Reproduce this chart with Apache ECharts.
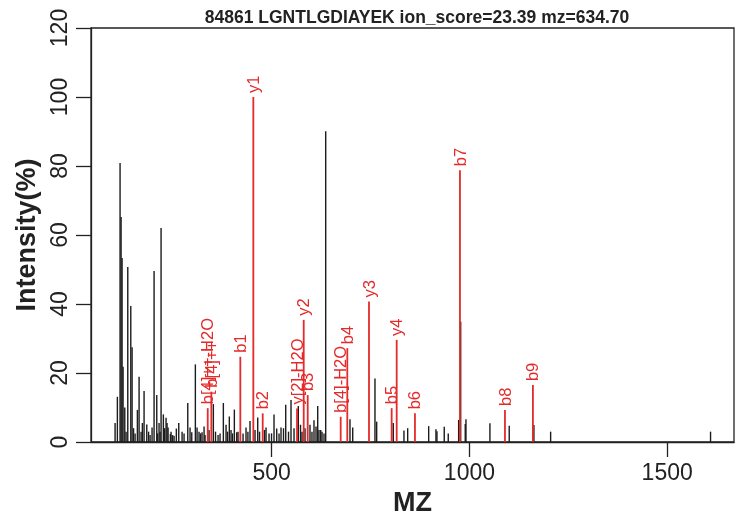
<!DOCTYPE html>
<html>
<head>
<meta charset="utf-8">
<script src="https://cdn.jsdelivr.net/npm/echarts@6/dist/echarts.min.js"></script>
<style>
  html, body { margin: 0; padding: 0; background: #fff; }
  #chart { width: 745px; height: 527px; }
</style>
</head>
<body>
<div id="chart"></div>
<script>
// 未匹配的峰（黑色）
const blackMz = [103.9, 109.7, 116.5, 119.1, 121.6, 124.1, 128.4, 131.7, 136, 143.6, 146.9, 150.6, 154.5,
  160.3, 164.6, 169.6, 172.9, 177.2, 184, 188.6, 192.4, 197.4, 202.5, 209.3, 211.3, 215.1, 217.6, 220.2,
  226, 229, 232.8, 235.3, 237.9, 243.7, 245.4, 249.2, 253, 258.8, 264.9, 273.3, 278.3, 287.7, 293.5,
  297.8, 306.9, 311.2, 316.2, 320, 323.8, 328.9, 331.4, 341.5, 352.4, 357.9, 364.3, 369.3, 377.7, 384.5,
  388.3, 392.8, 397.1, 400.9, 405.5, 411.5, 414.8, 427.5, 435, 439.8, 445.1, 457.8, 464.6, 469.2, 481.8,
  485.6, 493.2, 499.5, 505.8, 512.6, 518.5, 523.5, 529.8, 535.4, 542.5, 548.8, 556.4, 567.2, 572.8,
  576.6, 584.2, 596.8, 601.8, 606.9, 612, 616.3, 619.5, 623.9, 627.2, 632.2, 636.5, 697.9, 704.8,
  761.1, 765.4, 807.4, 834.4, 843.8, 896.9, 915.3, 917.8, 936.3, 946.4, 972.7, 977.8, 989.4, 991.2,
  1051.8, 1100.6, 1163, 1205.3, 1609.7];
const blackInt = [5.5, 13.1, 80.9, 65.2, 53.3, 21.8, 10, 3, 50.7, 39.4, 27.5, 4, 2.5,
  9.3, 18.9, 3, 5.5, 14.8, 5.1, 3, 2, 4.2, 49.6, 13.6, 2.5, 5.5, 3, 62,
  8, 4, 7, 5.5, 4.2, 2.3, 3, 2, 1.8, 3.9, 5.5, 3, 2.5, 11.3, 4.2,
  2.8, 22.5, 4.2, 3, 2.5, 2.8, 4.5, 2, 3.5, 11, 3, 2, 2.5, 11.3, 5,
  3, 7.4, 3.5, 2.5, 9.4, 2.8, 3, 2.5, 4.2, 3, 6.1, 3.5, 7.1, 3, 3.5,
  4.2, 2.5, 2.5, 8, 3.9, 2.5, 4.2, 4, 10.8, 3, 12.2, 4, 10.4, 5,
  3, 4, 5, 3, 6.3, 4.5, 10.4, 3.5, 3.5, 3, 2.5, 90.1, 6.6, 4.2,
  18.4, 5.9, 5.5, 3.3, 4, 4.6, 3.7, 3.1, 4.4, 2.5, 6.4, 34.9, 5.2, 6.6,
  5.4, 4.7, 4.9, 3, 3];

// 匹配到的碎片离子（红色）
const ionLabels = ['b[4]++-H2O', 'b[4]++', 'b1', 'y1', 'b2', 'y[2]-H2O', 'y2', 'b3', 'b[4]-H2O', 'b4',
  'y3', 'b5', 'y4', 'b6', 'b7', 'b8', 'b9'];
const ionMz = [338.2, 347.3, 420.6, 453.5, 477.2, 564, 580.9, 591, 674.4, 691.1,
  746, 803.3, 816, 862.2, 976, 1089.8, 1160.5];
const ionInt = [9.8, 14.6, 24.7, 100, 8.3, 9.7, 35.4, 13.6, 7.3, 27.2,
  40.7, 9.8, 29.6, 8.3, 78.8, 9.3, 16.5];

const xTicks = [500, 1000, 1500];

const RED = '#e42a2a';
const INK = '#1c1c1c';

const chart = echarts.init(document.getElementById('chart'));

// 画一根竖线（峰），可选带旋转的标签
function stick(color, width, labels) {
  return function (params, api) {
    const base = api.coord([api.value(0), 0]);
    const top = api.coord([api.value(0), api.value(1)]);
    const children = [{
      type: 'line',
      shape: { x1: base[0], y1: base[1], x2: top[0], y2: top[1] },
      style: { stroke: color, lineWidth: width }
    }];
    if (labels) {
      children.push({
        type: 'text',
        x: top[0] + 1,
        y: top[1] - 4,
        rotation: Math.PI / 2,
        style: {
          text: labels[params.dataIndex],
          fill: color,
          font: '16.5px "Liberation Sans", Arial, sans-serif',
          align: 'left',
          verticalAlign: 'middle'
        }
      });
    }
    return { type: 'group', children: children };
  };
}

const option = {
  animation: false,
  title: {
    text: '84861 LGNTLGDIAYEK ion_score=23.39 mz=634.70',
    left: 412, top: 4, textAlign: 'center',
    textStyle: { fontFamily: 'Liberation Sans', fontWeight: 'bold', fontSize: 17.5, color: '#222' }
  },
  grid: {
    left: 91, right: 11, top: 28, bottom: 85,
    show: true, borderColor: '#222', borderWidth: 1.3, backgroundColor: 'transparent'
  },
  xAxis: {
    type: 'value', min: 43, max: 1669,
    name: 'MZ', nameLocation: 'middle', nameGap: 48,
    nameTextStyle: { fontFamily: 'Liberation Sans', fontWeight: 'bold', fontSize: 27, color: '#222' },
    splitLine: { show: false },
    axisLine: { show: true, onZero: false, lineStyle: { color: '#222', width: 1.3 } },
    axisTick: { show: true, inside: false, length: 15, customValues: xTicks, lineStyle: { color: '#222', width: 1.3 } },
    axisLabel: {
      customValues: xTicks, margin: 20, fontFamily: 'Liberation Sans', fontSize: 23, color: '#222',
      formatter: v => String(v)
    }
  },
  yAxis: {
    type: 'value', min: 0, max: 120, interval: 20,
    name: 'Intensity(%)', nameLocation: 'middle', nameGap: 50, nameRotate: 90,
    nameTextStyle: { fontFamily: 'Liberation Sans', fontWeight: 'bold', fontSize: 27, color: '#222' },
    splitLine: { show: false },
    axisLine: { show: true, lineStyle: { color: '#222', width: 1.3 } },
    axisTick: { show: true, inside: false, length: 15, lineStyle: { color: '#222', width: 1.3 } },
    axisLabel: { rotate: 90, margin: 19, fontFamily: 'Liberation Sans', fontSize: 23, color: '#222' }
  },
  series: [
    {
      type: 'custom',
      renderItem: stick(INK, 1.4),
      data: blackMz.map((m, i) => [m, blackInt[i]]),
      clip: true
    },
    {
      type: 'custom',
      renderItem: stick(RED, 1.8, ionLabels),
      data: ionMz.map((m, i) => [m, ionInt[i]])
    }
  ]
};

chart.setOption(option);
</script>
</body>
</html>
